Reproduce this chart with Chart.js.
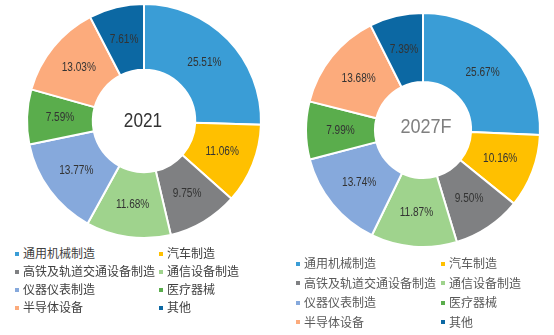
<!DOCTYPE html>
<html>
<head>
<meta charset="utf-8">
<script src="https://cdn.jsdelivr.net/npm/chart.js@4"></script>
<style>
  body { margin: 0; background: #fff; width: 554px; height: 335px; position: relative; overflow: hidden; }
  canvas { position: absolute; }
  .legend { position: absolute; font-family: "Noto Sans CJK SC", sans-serif; font-size: 12px; }
  .legend div { position: absolute; white-space: nowrap; line-height: 14px; }
  .legend span { display: inline-block; width: 4px; height: 4px; margin-right: 4px; vertical-align: middle; position: relative; top: -1px; }
</style>
</head>
<body>
<canvas id="chart2021" width="288" height="244" style="left:0;top:-1px"></canvas>
<canvas id="chart2027" width="288" height="260" style="left:279px;top:0"></canvas>
<div class="legend" id="legend2021" style="left:15px;top:246px;color:#404040"></div>
<div class="legend" id="legend2027" style="left:296px;top:256px;color:#595959"></div>
<script>
// Categories and shares (%)
const categories = ['通用机械制造', '汽车制造', '高铁及轨道交通设备制造', '通信设备制造', '仪器仪表制造', '医疗器械', '半导体设备', '其他'];
const values2021 = [25.51, 11.06, 9.75, 11.68, 13.77, 7.59, 13.03, 7.61];
const values2027 = [25.67, 10.16, 9.50, 11.87, 13.74, 7.99, 13.68, 7.39];
const colors = ['#3a9dd6', '#ffc000', '#7f8082', '#9fd38d', '#86a9dc', '#5aad4c', '#fcab7c', '#0c68a3'];

const sans = '"Liberation Sans", Arial, sans-serif';

// draw text squeezed horizontally (the original uses a narrow face)
function narrowText(ctx, text, x, y, squeeze) {
    ctx.save();
    ctx.translate(x, y);
    ctx.scale(squeeze, 1);
    ctx.fillText(text, 0, 0);
    ctx.restore();
}

// Percent labels on each slice
const sliceLabels = {
    id: 'sliceLabels',
    afterDatasetsDraw(chart) {
        const ctx = chart.ctx;
        const meta = chart.getDatasetMeta(0);
        ctx.save();
        ctx.font = '12px ' + sans;
        ctx.fillStyle = '#333';
        ctx.textAlign = 'center';
        ctx.textBaseline = 'middle';
        meta.data.forEach((arc, i) => {
            const p = arc.tooltipPosition();
            narrowText(ctx, chart.data.datasets[0].data[i].toFixed(2) + '%', p.x, p.y, 0.84);
        });
        ctx.restore();
    }
};

// Year in the middle of the ring
const centerText = {
    id: 'centerText',
    afterDraw(chart, args, opts) {
        const ctx = chart.ctx;
        const arc = chart.getDatasetMeta(0).data[0];
        ctx.save();
        ctx.font = opts.font;
        ctx.fillStyle = opts.color;
        ctx.textAlign = 'center';
        ctx.textBaseline = 'middle';
        narrowText(ctx, opts.text, arc.x + opts.dx, arc.y + opts.dy, 0.86);
        ctx.restore();
    }
};

function makeDonut(id, values, center) {
    new Chart(document.getElementById(id), {
        type: 'doughnut',
        data: {
            labels: categories,
            datasets: [{
                data: values,
                backgroundColor: colors,
                borderColor: '#fff',
                borderWidth: 2,
                radius: 117,
                cutout: 53
            }]
        },
        options: {
            responsive: false,
            animation: false,
            plugins: {
                legend: { display: false },
                tooltip: { enabled: false },
                centerText: center
            }
        },
        plugins: [sliceLabels, centerText]
    });
}

makeDonut('chart2021', values2021, { text: '2021', font: '20px ' + sans, color: '#333', dx: -1, dy: 0 });
makeDonut('chart2027', values2027, { text: '2027F', font: '21px ' + sans, color: '#7f7f7f', dx: 3, dy: -3 });

// Two-column legends
function buildLegend(id, colX, rowY) {
    const el = document.getElementById(id);
    categories.forEach((name, i) => {
        const item = document.createElement('div');
        item.style.left = colX[i % 2] + 'px';
        item.style.top = rowY[Math.floor(i / 2)] + 'px';
        item.innerHTML = '<span style="background:' + colors[i] + '"></span>' + name;
        el.appendChild(item);
    });
}
buildLegend('legend2021', [0, 144], [0, 18, 36, 54]);
buildLegend('legend2027', [0, 145], [0, 19.5, 39, 58.5]);
</script>
</body>
</html>
